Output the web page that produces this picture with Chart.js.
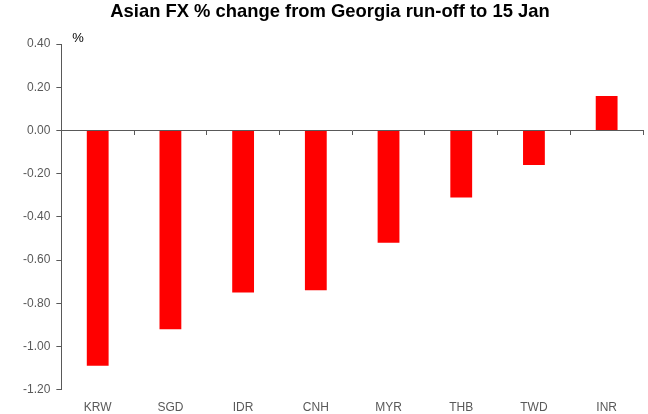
<!DOCTYPE html>
<html>
<head>
<meta charset="utf-8">
<script src="https://cdn.jsdelivr.net/npm/chart.js@4/dist/chart.umd.min.js"></script>
<style>
  html, body { margin: 0; padding: 0; background: #ffffff; }
  #wrap { width: 648px; height: 414px; position: relative; }
</style>
</head>
<body>
<div id="wrap"><canvas id="c" width="648" height="414"></canvas></div>
<script>
const categories = ["KRW", "SGD", "IDR", "CNH", "MYR", "THB", "TWD", "INR"];
const changes = [-1.09, -0.92, -0.75, -0.74, -0.52, -0.31, -0.16, 0.16];
const titleText = "Asian FX % change from Georgia run-off to 15 Jan";
const unitLabel = "%";

const unitPlugin = {
  id: 'unitLabel',
  afterDraw(chart) {
    const ctx = chart.ctx;
    const y = chart.scales.y;
    ctx.save();
    ctx.fillStyle = '#000000';
    ctx.font = '13px "Liberation Sans", Arial, sans-serif';
    ctx.textAlign = 'left';
    ctx.textBaseline = 'middle';
    ctx.fillText(unitLabel, y.right + 11, y.getPixelForValue(0.4) - 6);
    ctx.restore();
  }
};

new Chart(document.getElementById('c'), {
  type: 'bar',
  data: {
    labels: categories,
    datasets: [{
      data: changes,
      backgroundColor: '#ff0000',
      borderWidth: 0,
      categoryPercentage: 1.0,
      barPercentage: 0.3,
      xAxisID: 'x'
    }]
  },
  options: {
    responsive: false,
    animation: false,
    devicePixelRatio: 1,
    layout: { padding: { left: 17, right: 5, top: 0, bottom: -12 } },
    plugins: {
      legend: { display: false },
      tooltip: { enabled: false },
      title: {
        display: true,
        text: titleText,
        color: '#000000',
        font: { family: '"Liberation Sans", Arial, sans-serif', size: 18.4, weight: 'bold' },
        padding: { top: 1, bottom: 21 }
      }
    },
    scales: {
      x: {
        type: 'category',
        position: 'bottom',
        grid: { display: false, drawTicks: false },
        border: { display: false },
        ticks: {
          color: '#595959',
          font: { family: '"Liberation Sans", Arial, sans-serif', size: 12 },
          padding: 11
        }
      },
      x2: {
        type: 'category',
        labels: categories,
        position: { y: 0 },
        offset: true,
        grid: {
          display: true,
          offset: true,
          drawOnChartArea: false,
          drawTicks: true,
          tickLength: 4,
          color: '#595959',
          lineWidth: 1
        },
        border: { display: true, color: '#595959', width: 1 },
        ticks: { display: false }
      },
      y: {
        min: -1.2,
        max: 0.4,
        grid: {
          drawOnChartArea: false,
          drawTicks: true,
          tickLength: 5,
          color: '#595959'
        },
        border: { display: true, color: '#595959', width: 1 },
        ticks: {
          stepSize: 0.2,
          color: '#595959',
          padding: 6,
          font: { family: '"Liberation Sans", Arial, sans-serif', size: 12 },
          callback: function(v) { return Number(v).toFixed(2); }
        }
      }
    }
  },
  plugins: [unitPlugin]
});
</script>
</body>
</html>
